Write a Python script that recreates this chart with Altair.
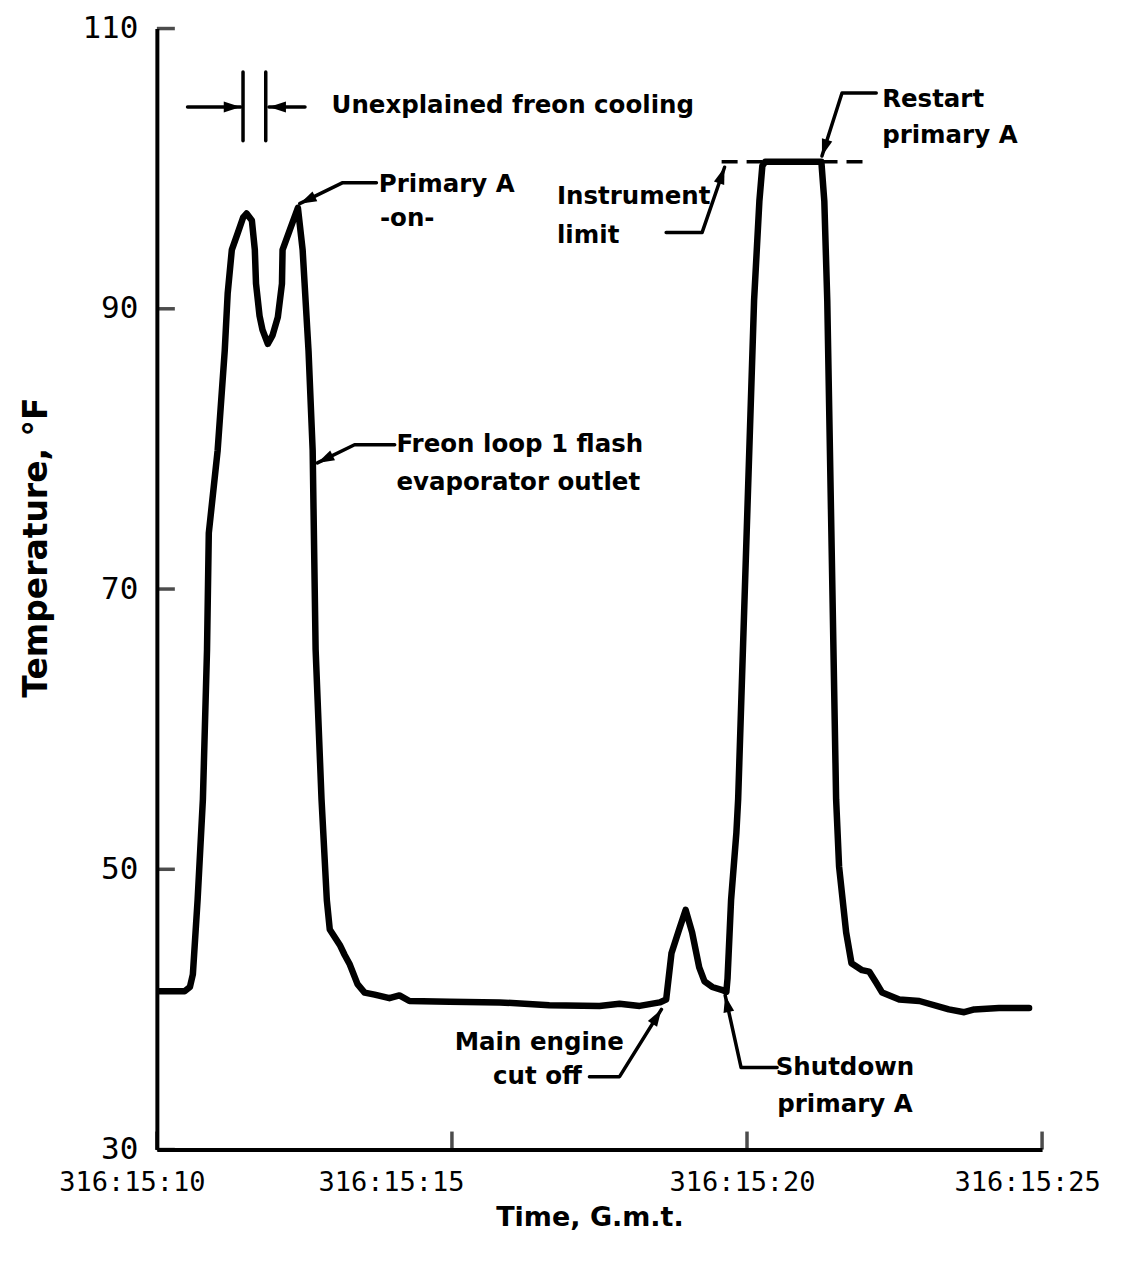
import math
import altair as alt
import pandas as pd

# ---------------- data ----------------
time_s = [10.05, 10.47, 10.56, 10.61, 10.69, 10.78, 10.85, 10.88, 11.03, 11.15,
          11.20, 11.27, 11.37, 11.46, 11.52, 11.61, 11.66, 11.68, 11.74, 11.79,
          11.88, 11.96, 12.05, 12.12, 12.13, 12.25, 12.39, 12.47, 12.57, 12.64,
          12.69, 12.79, 12.88, 12.93, 13.10, 13.18, 13.27, 13.40, 13.52, 13.69,
          13.94, 14.11, 14.28, 14.96, 15.81, 16.65, 17.50, 17.84, 18.18, 18.52,
          18.63, 18.72, 18.85, 18.96, 19.07, 19.19, 19.28, 19.41, 19.57, 19.65,
          19.67, 19.73, 19.82, 19.85, 20.12, 20.21, 20.26, 20.31, 21.26, 21.31,
          21.36, 21.51, 21.56, 21.68, 21.77, 21.95, 22.07, 22.19, 22.29, 22.58,
          22.92, 23.42, 23.68, 23.85, 24.27, 24.78]
temp_f = [41.3, 41.3, 41.6, 42.5, 47.8, 55.0, 65.7, 74.0, 79.9, 87.0,
          91.1, 94.2, 95.4, 96.5, 96.8, 96.3, 94.2, 91.8, 89.5, 88.5,
          87.5, 88.1, 89.4, 91.8, 94.2, 95.6, 97.2, 94.2, 87.0, 79.9,
          65.7, 55.0, 47.8, 45.7, 44.6, 43.9, 43.2, 41.8, 41.2, 41.05,
          40.8, 41.0, 40.6, 40.55, 40.5, 40.3, 40.25, 40.4, 40.25, 40.5,
          40.7, 44.0, 45.7, 47.1, 45.5, 43.0, 42.0, 41.6, 41.4, 41.25,
          42.2, 47.8, 52.6, 55.0, 90.6, 97.7, 100.2, 100.5, 100.5, 97.7,
          90.6, 55.0, 50.2, 45.5, 43.3, 42.8, 42.7, 41.9, 41.2, 40.7,
          40.6, 40.0, 39.8, 40.0, 40.1, 40.1]

x_ticks = [10, 15, 20, 25]
x_tick_labels = ["316:15:10", "316:15:15", "316:15:20", "316:15:25"]
y_ticks = [30, 50, 70, 90, 110]

instrument_limit = 100.5
limit_from, limit_to = 19.57, 21.99

# annotation texts (left aligned): text, time, temperature
left_text = ["Unexplained freon cooling", "Primary A", "-on-",
             "Freon loop 1 flash", "evaporator outlet",
             "Instrument", "limit", "Restart", "primary A"]
left_t = [12.96, 13.76, 13.78, 14.06, 14.06, 16.78, 16.78, 22.29, 22.29]
left_T = [104.5, 98.8, 96.4, 80.3, 77.6, 97.95, 95.2, 104.9, 102.35]

# annotation texts (centered)
center_text = ["Main engine", "cut off", "Shutdown", "primary A"]
center_t = [16.48, 16.45, 21.66, 21.66]
center_T = [37.6, 35.2, 35.85, 33.2]

# leader lines (last point = arrow tip)
leaders = {
    "cool_left": [(10.52, 104.4), (11.42, 104.4)],
    "cool_right": [(12.51, 104.4), (11.90, 104.4)],
    "primary_on": [(13.72, 99.0), (13.15, 99.0), (12.42, 97.5)],
    "freon": [(14.03, 80.3), (13.35, 80.3), (12.72, 79.0)],
    "instrument": [(18.63, 95.45), (19.24, 95.45), (19.62, 100.1)],
    "restart": [(22.19, 105.4), (21.61, 105.4), (21.27, 100.9)],
    "main_engine": [(17.33, 35.2), (17.84, 35.2), (18.55, 40.0)],
    "shutdown": [(20.51, 35.85), (19.90, 35.85), (19.63, 41.0)],
}
# bars without arrowheads
bars = {
    "bar_left": [(11.46, 102.0), (11.46, 106.9)],
    "bar_right": [(11.845, 102.0), (11.845, 106.9)],
}

# ---------------- chart ----------------
W, H = 886, 1122
X_DOM = [10, 25]
Y_DOM = [30, 110]
kx = W / (X_DOM[1] - X_DOM[0])
ky = H / (Y_DOM[1] - Y_DOM[0])

label_font = "DejaVu Sans Mono"
text_font = "DejaVu Sans"

x_scale = alt.Scale(domain=X_DOM, nice=False, zero=False)
y_scale = alt.Scale(domain=Y_DOM, nice=False, zero=False)

label_expr = " : ".join(
    f"datum.value == {v} ? '{s}'" for v, s in zip(x_ticks, x_tick_labels)
) + " : ''"

x_axis = alt.Axis(
    values=x_ticks, labelExpr=label_expr, title="Time, G.m.t.",
    domainColor="black", domainWidth=4, ticks=False, tickSize=0, grid=False,
    labelFont=label_font, labelFontSize=27, labelColor="black",
    labelPadding=20, labelFlush=False, labelOverlap=False,
    labelOffset={"condition": [
        {"test": "datum.value == 10", "value": -25},
        {"test": "datum.value == 15", "value": -61},
        {"test": "datum.value == 20", "value": -5},
    ], "value": -15},
    titleFont=text_font, titleFontSize=27, titleFontWeight="bold",
    titleColor="black", titleX=433, titleY=68, titleAlign="center",
    titleBaseline="middle",
)
y_axis = alt.Axis(
    values=y_ticks, format="d", title="Temperature, °F",
    domainColor="black", domainWidth=4, ticks=False, tickSize=0, grid=False,
    labelFont=label_font, labelFontSize=31, labelColor="black",
    labelPadding=19, labelFlush=False, labelOverlap=False,
    titleFont=text_font, titleFontSize=33, titleFontWeight="bold",
    titleColor="black", titleX=-103, titleY=519, titleAngle=270,
    titleAlign="center", titleBaseline="bottom",
)

X = alt.X("t:Q", scale=x_scale, axis=x_axis)
Y = alt.Y("T:Q", scale=y_scale, axis=y_axis)

curve_df = pd.DataFrame({"t": time_s, "T": temp_f})
curve = alt.Chart(curve_df).mark_line(
    color="black", strokeWidth=6.5, strokeJoin="round", strokeCap="round"
).encode(x=X, y=Y)

limit_df = pd.DataFrame({"t": [limit_from, limit_to],
                         "T": [instrument_limit, instrument_limit]})
limit_line = alt.Chart(limit_df).mark_line(
    color="black", strokeWidth=3.5, strokeDash=[16, 9]
).encode(x=X, y=Y)

# inward axis ticks
xt_df = pd.DataFrame({"t": x_ticks, "T": [Y_DOM[0]] * len(x_ticks)})
x_tick_marks = alt.Chart(xt_df).mark_tick(
    orient="vertical", size=18, thickness=3.5, color="black", yOffset=-9
).encode(x=X, y=Y)
yt_df = pd.DataFrame({"t": [X_DOM[0]] * len(y_ticks), "T": y_ticks})
y_tick_marks = alt.Chart(yt_df).mark_tick(
    orient="horizontal", size=18, thickness=3.5, color="black", xOffset=9
).encode(x=X, y=Y)

# leader lines
rows = []
for name, pts in {**leaders, **bars}.items():
    for i, (tt, TT) in enumerate(pts):
        rows.append({"g": name, "i": i, "t": tt, "T": TT})
lead_df = pd.DataFrame(rows)
lead_lines = alt.Chart(lead_df).mark_line(
    color="black", strokeWidth=3.5, strokeCap="round", strokeJoin="round"
).encode(x=X, y=Y, detail="g:N", order="i:Q")

heads = []
for name, pts in leaders.items():
    (t1, T1), (t2, T2) = pts[-2], pts[-1]
    dx = (t2 - t1) * kx
    dy = -(T2 - T1) * ky
    ang = math.degrees(math.atan2(dx, -dy)) % 360
    heads.append({"t": t2, "T": T2, "a": ang})
head_df = pd.DataFrame(heads)
arrow_heads = alt.Chart(head_df).mark_point(
    shape="M0,0L-0.32,1L0.32,1Z", size=1150, filled=True, color="black",
    opacity=1, strokeWidth=0
).encode(x=X, y=Y, angle=alt.Angle("a:Q", scale=None))

lt_df = pd.DataFrame({"t": left_t, "T": left_T, "txt": left_text})
left_labels = alt.Chart(lt_df).mark_text(
    align="left", baseline="middle", font=text_font, fontSize=24.5,
    fontWeight="bold", color="black"
).encode(x=X, y=Y, text="txt:N")

ct_df = pd.DataFrame({"t": center_t, "T": center_T, "txt": center_text})
center_labels = alt.Chart(ct_df).mark_text(
    align="center", baseline="middle", font=text_font, fontSize=24.5,
    fontWeight="bold", color="black"
).encode(x=X, y=Y, text="txt:N")

chart = alt.layer(
    limit_line, curve, x_tick_marks, y_tick_marks, lead_lines, arrow_heads,
    left_labels, center_labels
).properties(
    width=W, height=H,
    background="white",
    autosize=alt.AutoSizeParams(type="none"),
    padding={"left": 149, "top": 20, "right": 80, "bottom": 100},
).configure_view(strokeWidth=0, strokeOpacity=0, stroke="transparent")

chart.save("out.html", embed_options={"renderer": "svg", "actions": False})
